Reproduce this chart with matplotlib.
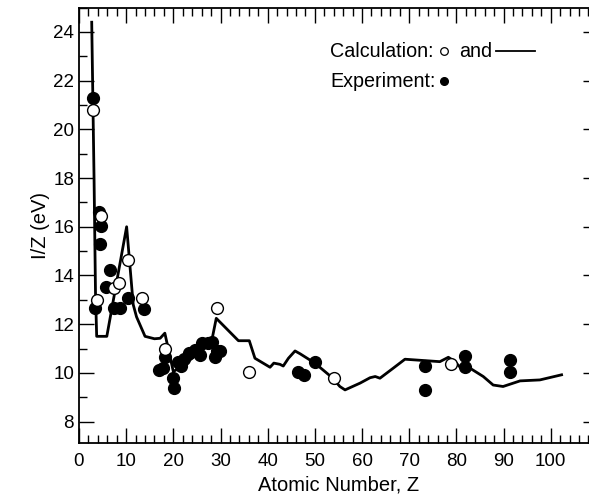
import matplotlib.pyplot as plt
from matplotlib.ticker import MultipleLocator, FixedLocator

plt.rcParams['font.family'] = ['Liberation Sans', 'DejaVu Sans']

# calculated I/Z curve
calc_z = [2.7, 3.2, 3.5, 3.75, 5.9, 10.1, 11.5, 12.2, 14.0, 16.0, 17.2, 18.2, 20.0,
          22.0, 24.0, 26.0, 28.1, 29.1, 33.8, 36.1, 37.3, 40.5, 41.3, 42.6, 43.3,
          44.4, 45.8, 46.9, 50.0, 53.7, 55.3, 56.4, 59.6, 61.7, 62.8, 63.8, 66.6,
          69.1, 76.5, 78.3, 79.7, 80.8, 82.9, 85.7, 87.8, 89.9, 93.5, 97.7, 102.3]
calc_iz = [24.4, 17.9, 13.3, 11.5, 11.5, 16.0, 12.8, 12.3, 11.5, 11.4, 11.42, 11.63, 10.05,
           10.3, 10.6, 10.9, 11.28, 12.24, 11.32, 11.32, 10.6, 10.23, 10.4, 10.35, 10.28,
           10.6, 10.9, 10.78, 10.4, 9.8, 9.44, 9.3, 9.58, 9.8, 9.85, 9.78, 10.19,
           10.56, 10.46, 10.64, 10.46, 10.23, 10.19, 9.85, 9.5, 9.44, 9.67, 9.71, 9.92]

# calculated points (open circles)
calc_pt_z = [3.0, 3.8, 4.6, 7.5, 8.5, 10.4, 13.4, 18.2, 29.2, 36.0, 54.0, 78.8]
calc_pt_iz = [20.8, 13.0, 16.45, 13.47, 13.68, 14.65, 13.08, 11.0, 12.65, 10.05, 9.8, 10.37]

# measured points (filled circles)
exp_z = [2.9, 4.2, 4.7, 4.5, 6.5, 5.7, 3.5, 7.5, 8.6, 10.3, 13.8,
         17.0, 17.9, 18.2, 20.0, 20.2, 21.0, 21.7, 22.3, 23.3, 24.6, 25.6, 26.0,
         27.3, 28.2, 28.8, 29.2, 29.9,
         46.5, 47.6, 50.0, 73.4, 73.4, 81.8, 81.8, 91.4, 91.4]
exp_iz = [21.3, 16.6, 16.05, 15.3, 14.22, 13.54, 12.67, 12.68, 12.68, 13.08, 12.62,
          10.12, 10.19, 10.65, 9.8, 9.37, 10.43, 10.28, 10.55, 10.8, 10.94, 10.74, 11.22,
          11.21, 11.25, 10.67, 10.9, 10.9,
          10.05, 9.92, 10.46, 10.29, 9.3, 10.7, 10.23, 10.53, 10.05]

x_major = [0, 10, 20, 30, 40, 50, 60, 70, 80, 90, 100]

fig = plt.figure(figsize=(5.89, 5.01), dpi=100)
ax = fig.add_axes([0.1341, 0.1158, 0.881, 0.869])

ax.plot(calc_z, calc_iz, color='black', lw=2.0, zorder=2)
ax.plot(exp_z, exp_iz, 'o', color='black', ms=8.5, zorder=3)
ax.plot(calc_pt_z, calc_pt_iz, 'o', mfc='white', mec='black', mew=1.0, ms=8.5, zorder=4)

ax.set_xlim(0, 110)
ax.set_ylim(7.12, 25)
ax.xaxis.set_major_locator(FixedLocator(x_major))
ax.xaxis.set_minor_locator(MultipleLocator(2))
ax.yaxis.set_major_locator(MultipleLocator(2))
ax.yaxis.set_minor_locator(MultipleLocator(1))
ax.tick_params(which='both', direction='in', top=True, right=True, width=1.0,
               labelsize=13.5)
ax.tick_params(which='major', length=11)
ax.tick_params(which='minor', length=6)
ax.tick_params(axis='x', pad=7)
for s in ax.spines.values():
    s.set_linewidth(1.3)

ax.set_xlabel('Atomic Number, Z', fontsize=14.5, labelpad=4)
ax.set_ylabel('I/Z (eV)', fontsize=14.5, labelpad=2)

# key in the upper right
ax.text(53.2, 23.2, 'Calculation:', fontsize=14.2, va='center', ha='left')
ax.plot([77.3], [23.2], 'o', mfc='white', mec='black', mew=0.9, ms=5.5)
ax.text(80.6, 23.2, 'and', fontsize=14.2, va='center', ha='left')
ax.plot([88.4, 96.7], [23.2, 23.2], color='black', lw=1.3)
ax.text(53.2, 21.98, 'Experiment:', fontsize=14.2, va='center', ha='left')
ax.plot([77.3], [21.98], 'o', color='black', ms=5.5)

fig.savefig('out.png', dpi=100)
